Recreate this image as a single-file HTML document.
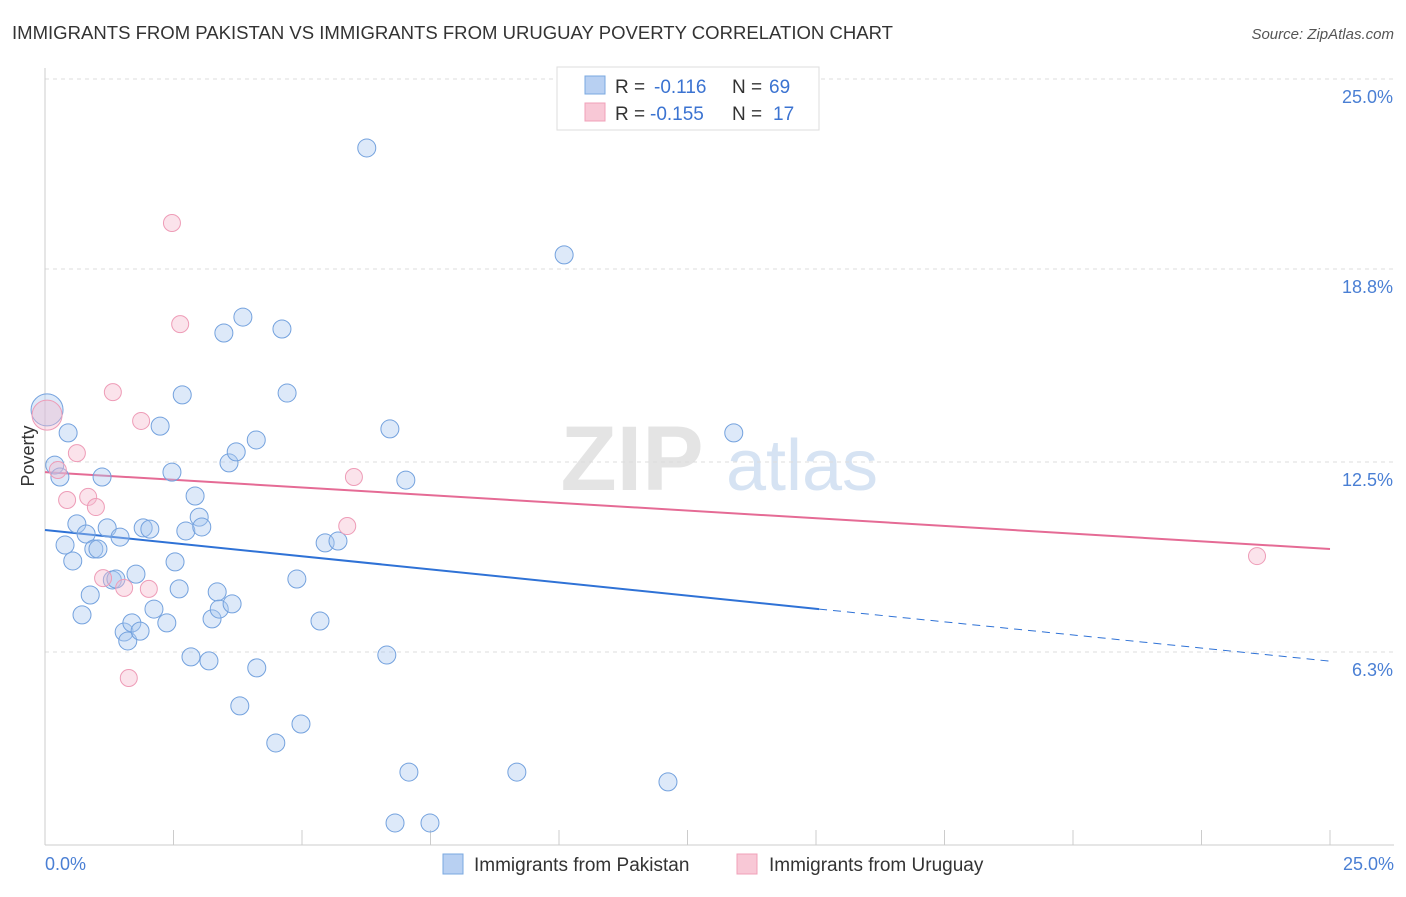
<!DOCTYPE html>
<html><head><meta charset="utf-8"><style>
body{margin:0;background:#fff;font-family:"Liberation Sans",sans-serif;}
svg text{font-family:"Liberation Sans",sans-serif;}
</style></head><body>
<svg id="chart" width="1406" height="892" xmlns="http://www.w3.org/2000/svg">
<text x="12" y="39" font-size="18" fill="#333" textLength="881" lengthAdjust="spacingAndGlyphs">IMMIGRANTS FROM PAKISTAN VS IMMIGRANTS FROM URUGUAY POVERTY CORRELATION CHART</text>
<text x="1394" y="39" font-size="15" fill="#555" font-style="italic" text-anchor="end">Source: ZipAtlas.com</text>
<g>
<text x="632" y="490" font-size="92" fill="#e4e4e4" text-anchor="middle" font-family="Liberation Serif" font-weight="bold">ZIP</text>
<text x="802" y="490" font-size="72" fill="#d6e3f3" text-anchor="middle">atlas</text>
</g>
<g id="grid"></g>
<g id="axes"></g>
<g id="trend"></g>
<g id="points"></g>
<text x="34" y="456" font-size="18" fill="#333" text-anchor="middle" transform="rotate(-90 34 456)">Poverty</text>
<text x="45" y="870" font-size="18" fill="#4a7fd4">0.0%</text>
<text x="1394" y="870" font-size="18" fill="#4a7fd4" text-anchor="end">25.0%</text>
<g>
<rect x="557" y="67" width="262" height="63" fill="#fff" stroke="#ddd"/>
<rect x="585" y="76" width="20" height="18" fill="#b8d0f2" stroke="#7aa8e0"/>
<rect x="585" y="103" width="20" height="18" fill="#f8c8d6" stroke="#f0a0b8"/>
<text y="93" font-size="19" fill="#333"><tspan x="615">R =</tspan><tspan x="654" fill="#3b73d1">-0.116</tspan><tspan x="732">N =</tspan><tspan x="769" fill="#3b73d1">69</tspan></text>
<text y="120" font-size="19" fill="#333"><tspan x="615">R =</tspan><tspan x="650" fill="#3b73d1">-0.155</tspan><tspan x="732">N =</tspan><tspan x="773" fill="#3b73d1">17</tspan></text>
</g>
<g>
<rect x="443" y="854" width="20" height="20" fill="#b8d0f2" stroke="#7aa8e0"/>
<text x="474" y="871" font-size="19" fill="#333">Immigrants from Pakistan</text>
<rect x="737" y="854" width="20" height="20" fill="#f8c8d6" stroke="#f0a0b8"/>
<text x="769" y="871" font-size="19" fill="#333">Immigrants from Uruguay</text>
</g>
</svg>
<script>
const yTicks=[25.0,18.8,12.5,6.3];
const yTickLabels=["25.0%","18.8%","12.5%","6.3%"];
const xTicks=[0,2.5,5,7.5,10,12.5,15,17.5,20,22.5,25];
const pakX=[0.04,0.19,0.29,0.45,0.39,0.54,0.62,0.72,0.80,0.88,0.95,1.03,1.11,1.21,1.31,1.38,1.46,1.54,1.61,1.69,1.77,1.85,1.91,2.04,2.12,2.24,2.37,2.47,2.53,2.61,2.67,2.74,2.84,2.92,3.00,3.05,3.19,3.25,3.35,3.39,3.48,3.58,3.64,3.72,3.79,3.85,4.11,4.12,4.49,4.61,4.71,4.90,4.98,5.35,5.45,5.70,6.26,6.65,6.71,6.81,7.02,7.08,7.49,9.18,10.10,12.12,13.40];
const pakY=[14.20,12.40,12.01,13.45,9.79,9.27,10.48,7.51,10.15,8.16,9.66,9.66,12.01,10.35,8.65,8.68,10.05,6.95,6.66,7.25,8.84,6.98,10.35,10.31,7.70,13.67,7.25,12.17,9.24,8.36,14.69,10.25,6.14,11.39,10.70,10.38,6.01,7.38,8.26,7.70,16.71,12.47,7.87,12.83,4.54,17.23,13.22,5.78,3.33,16.84,14.75,8.68,3.95,7.31,9.86,9.92,22.75,6.20,13.58,0.72,11.91,2.38,0.72,2.38,19.26,2.06,13.45];
const uruX=[0.04,0.25,0.43,0.62,0.84,0.99,1.13,1.32,1.54,1.63,1.87,2.02,2.47,2.63,5.88,6.01,23.58];
const uruY=[14.03,12.24,11.26,12.79,11.36,11.03,8.71,14.78,8.39,5.45,13.84,8.36,20.30,17.00,10.41,12.01,9.43];
const pakTrend=[10.28,7.70,6.0]; const pakTrendX=[0,15.06,25];
const uruTrend=[12.17,9.66]; const uruTrendX=[0,25];
const NS="http://www.w3.org/2000/svg";
const X=v=>45+v*51.4, Y=v=>845-v*30.64;
function mk(tag,attrs,parent){const e=document.createElementNS(NS,tag);for(const k in attrs)e.setAttribute(k,attrs[k]);document.getElementById(parent).appendChild(e);return e;}
yTicks.forEach((t,i)=>{
 const l=mk('line',{x1:45,x2:1394,y1:Y(t),y2:Y(t),stroke:'#ddd','stroke-dasharray':'4,4'},'grid');
 
 
 const tx=mk('text',{x:1393,y:Y(t)+24,'font-size':18,fill:'#4a7fd4','text-anchor':'end'},'grid');
 tx.textContent=yTickLabels[i];
 
 
});
const ax=mk('line',{x1:45,x2:1394,y1:845,y2:845,stroke:'#ccc'},'axes');


const ay=mk('line',{x1:45,x2:45,y1:68,y2:845,stroke:'#ccc'},'axes');


xTicks.forEach(t=>{
 const l=mk('line',{x1:X(t),x2:X(t),y1:830,y2:845,stroke:'#ccc'},'axes');
 
 
});
const t1=mk('line',{x1:X(pakTrendX[0]),y1:Y(pakTrend[0]),x2:X(pakTrendX[1]),y2:Y(pakTrend[1]),stroke:'#2f72d6','stroke-width':2},'trend');


const t2=mk('line',{x1:X(pakTrendX[1]),y1:Y(pakTrend[1]),x2:X(pakTrendX[2]),y2:Y(pakTrend[2]),stroke:'#2f72d6','stroke-width':1,'stroke-dasharray':'8,6'},'trend');


const t3=mk('line',{x1:X(uruTrendX[0]),y1:Y(uruTrend[0]),x2:X(uruTrendX[1]),y2:Y(uruTrend[1]),stroke:'#e56b95','stroke-width':2},'trend');


pakX.forEach((x,i)=>{
 const c=mk('circle',{cx:X(x),cy:Y(pakY[i]),r:i===0?16:9,fill:'rgba(170,200,240,0.4)',stroke:'#74a2de','stroke-width':1},'points');
 
 
});
uruX.forEach((x,i)=>{
 const c=mk('circle',{cx:X(x),cy:Y(uruY[i]),r:i===0?15:8.5,fill:'rgba(245,185,205,0.4)',stroke:'#ee9cb7','stroke-width':1},'points');
 
 
});
</script>
</body></html>
